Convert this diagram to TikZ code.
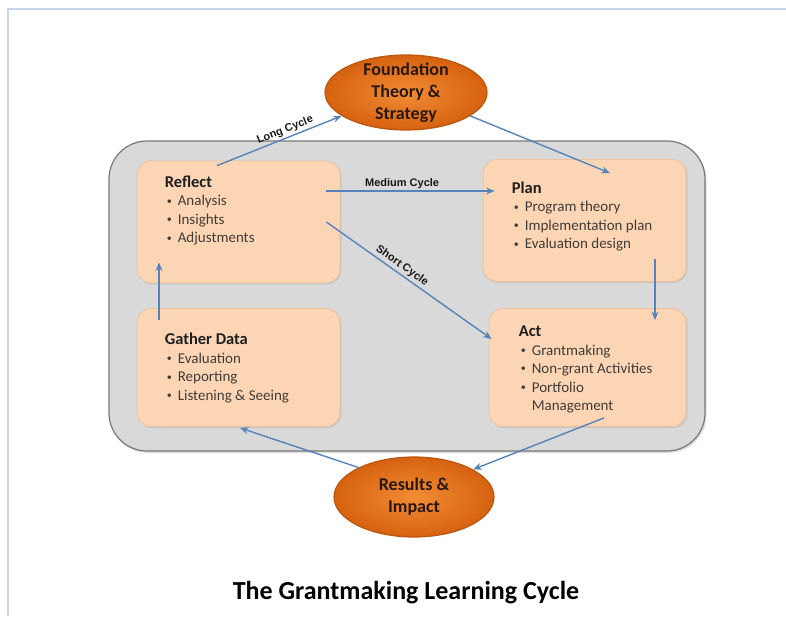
\documentclass[tikz,border=0pt]{standalone}
\usepackage{fontspec}
\setmainfont{Carlito}
\newfontfamily\labelfont{Liberation Sans}
\usepackage{xcolor}
\usetikzlibrary{arrows.meta,shapes.geometric,shadows,positioning}

\definecolor{peach}{RGB}{252,213,181}
\definecolor{peachline}{RGB}{236,192,154}
\definecolor{loopgray}{RGB}{217,217,217}
\definecolor{loopline}{RGB}{120,120,120}
\definecolor{flowblue}{RGB}{86,131,186}
\definecolor{ovalin}{RGB}{242,140,52}
\definecolor{ovalout}{RGB}{214,98,16}
\definecolor{ovalline}{RGB}{186,86,14}
\definecolor{ovaltext}{RGB}{40,24,12}
\definecolor{frameblue}{RGB}{197,213,234}
\definecolor{itemgray}{RGB}{66,60,56}

\newcommand{\boxhead}[1]{{\fontsize{16.5}{18.5}\selectfont\bfseries\color{black!88}#1}}
\newcommand{\itm}{\hspace*{2pt}\makebox[11pt][l]{\raisebox{0.25ex}{\fontsize{10}{10}\selectfont\textbullet}}}

\begin{document}
\begin{tikzpicture}[x=1pt, y=-1pt, >={Stealth[length=8.5pt,width=7pt]},
  loopbox/.style={draw=loopline, fill=loopgray, rounded corners=38pt, line width=1.2pt, minimum width=596pt, minimum height=310pt, drop shadow={opacity=0.25, shadow xshift=1.5pt, shadow yshift=-2pt}},
  box/.style={draw=peachline, fill=peach, rounded corners=14pt, line width=0.8pt, minimum width=203pt, minimum height=122pt, drop shadow={opacity=0.2, shadow xshift=1.5pt, shadow yshift=-1.5pt}},
  items/.style={inner sep=0pt, align=left, text=itemgray, font=\fontsize{15}{18.5}\selectfont},
  oval/.style={ellipse, draw=ovalline, line width=1.2pt, inner color=ovalin, outer color=ovalout, text=ovaltext, font=\fontsize{18}{22}\selectfont\bfseries, align=center, inner sep=0pt, inner ysep=-4pt},
  flow/.style={->, draw=flowblue, line width=1.4pt},
  cyc/.style={sloped, above, inner sep=2pt, text=black!90, font=\labelfont\bfseries\fontsize{11}{13}\selectfont}]
\useasboundingbox (0,0) rectangle (786,616);
\draw[frameblue, line width=2pt] (7.5,616) -- (7.5,8.5) -- (786,8.5);

\node[loopbox] (bg) at (407,296) {};

\node[box] (r) at (238.5,222) {};
\node[box] (p) at (584.5,220.5) {};
\node[box, minimum height=118pt] (g) at (238.5,367.5) {};
\node[box, minimum width=197pt, minimum height=118pt] (a) at (587.5,367.5) {};

\node[items, below right=15pt and 28pt of r.north west] (rt) {\boxhead{Reflect}\\\itm Analysis\\\itm Insights\\\itm Adjustments};
\node[items, below right=22.5pt and 29pt of p.north west] (pt) {\boxhead{Plan}\\\itm Program theory\\\itm Implementation plan\\\itm Evaluation design};
\node[items, below right=17.5pt and 30pt of a.north west] (at) {\boxhead{Act}\\\itm Grantmaking\\\itm Non-grant Activities\\\itm Portfolio\\\hspace*{13pt}Management};
\node[items, below right=25pt and 28pt of g.north west] (gt) {\boxhead{Gather Data}\\\itm Evaluation\\\itm Reporting\\\itm Listening \& Seeing};

\node[oval, minimum width=162pt, minimum height=75pt] (f) at (406,92.5) {Foundation\\Theory \&\\Strategy};
\node[oval, minimum width=160pt, minimum height=80pt] (ri) at (414,497) {Results \&\\Impact};

\node[anchor=base, font=\fontsize{26}{30}\selectfont\bfseries] (title) at (406,599) {The Grantmaking Learning Cycle};

\draw[flow] ([shift={(-21.5,5)}]r.north) -- node[cyc, pos=0.57] {Long Cycle} (f.200);
\draw[flow] (f.340) -- ([shift={(25.5,14)}]p.north);
\draw[flow] ([shift={(-14,-31)}]r.east) -- node[cyc, pos=0.45] {Medium Cycle} ([shift={(12,-29.5)}]p.west);
\draw[flow] ([shift={(-14,0)}]r.east) -- node[cyc, pos=0.43] {Short Cycle} ([shift={(3,-28.5)}]a.west);
\draw[flow] ([shift={(70.5,-23)}]p.south) -- ([shift={(67.5,12)}]a.north);
\draw[flow] ([shift={(16.5,-9)}]a.south) -- (ri.25);
\draw[flow] (ri.152) -- ([shift={(1.5,1)}]g.south);
\draw[flow] ([shift={(-79.5,12)}]g.north) -- ([shift={(-79.5,-21)}]r.south);
\end{tikzpicture}
\end{document}
